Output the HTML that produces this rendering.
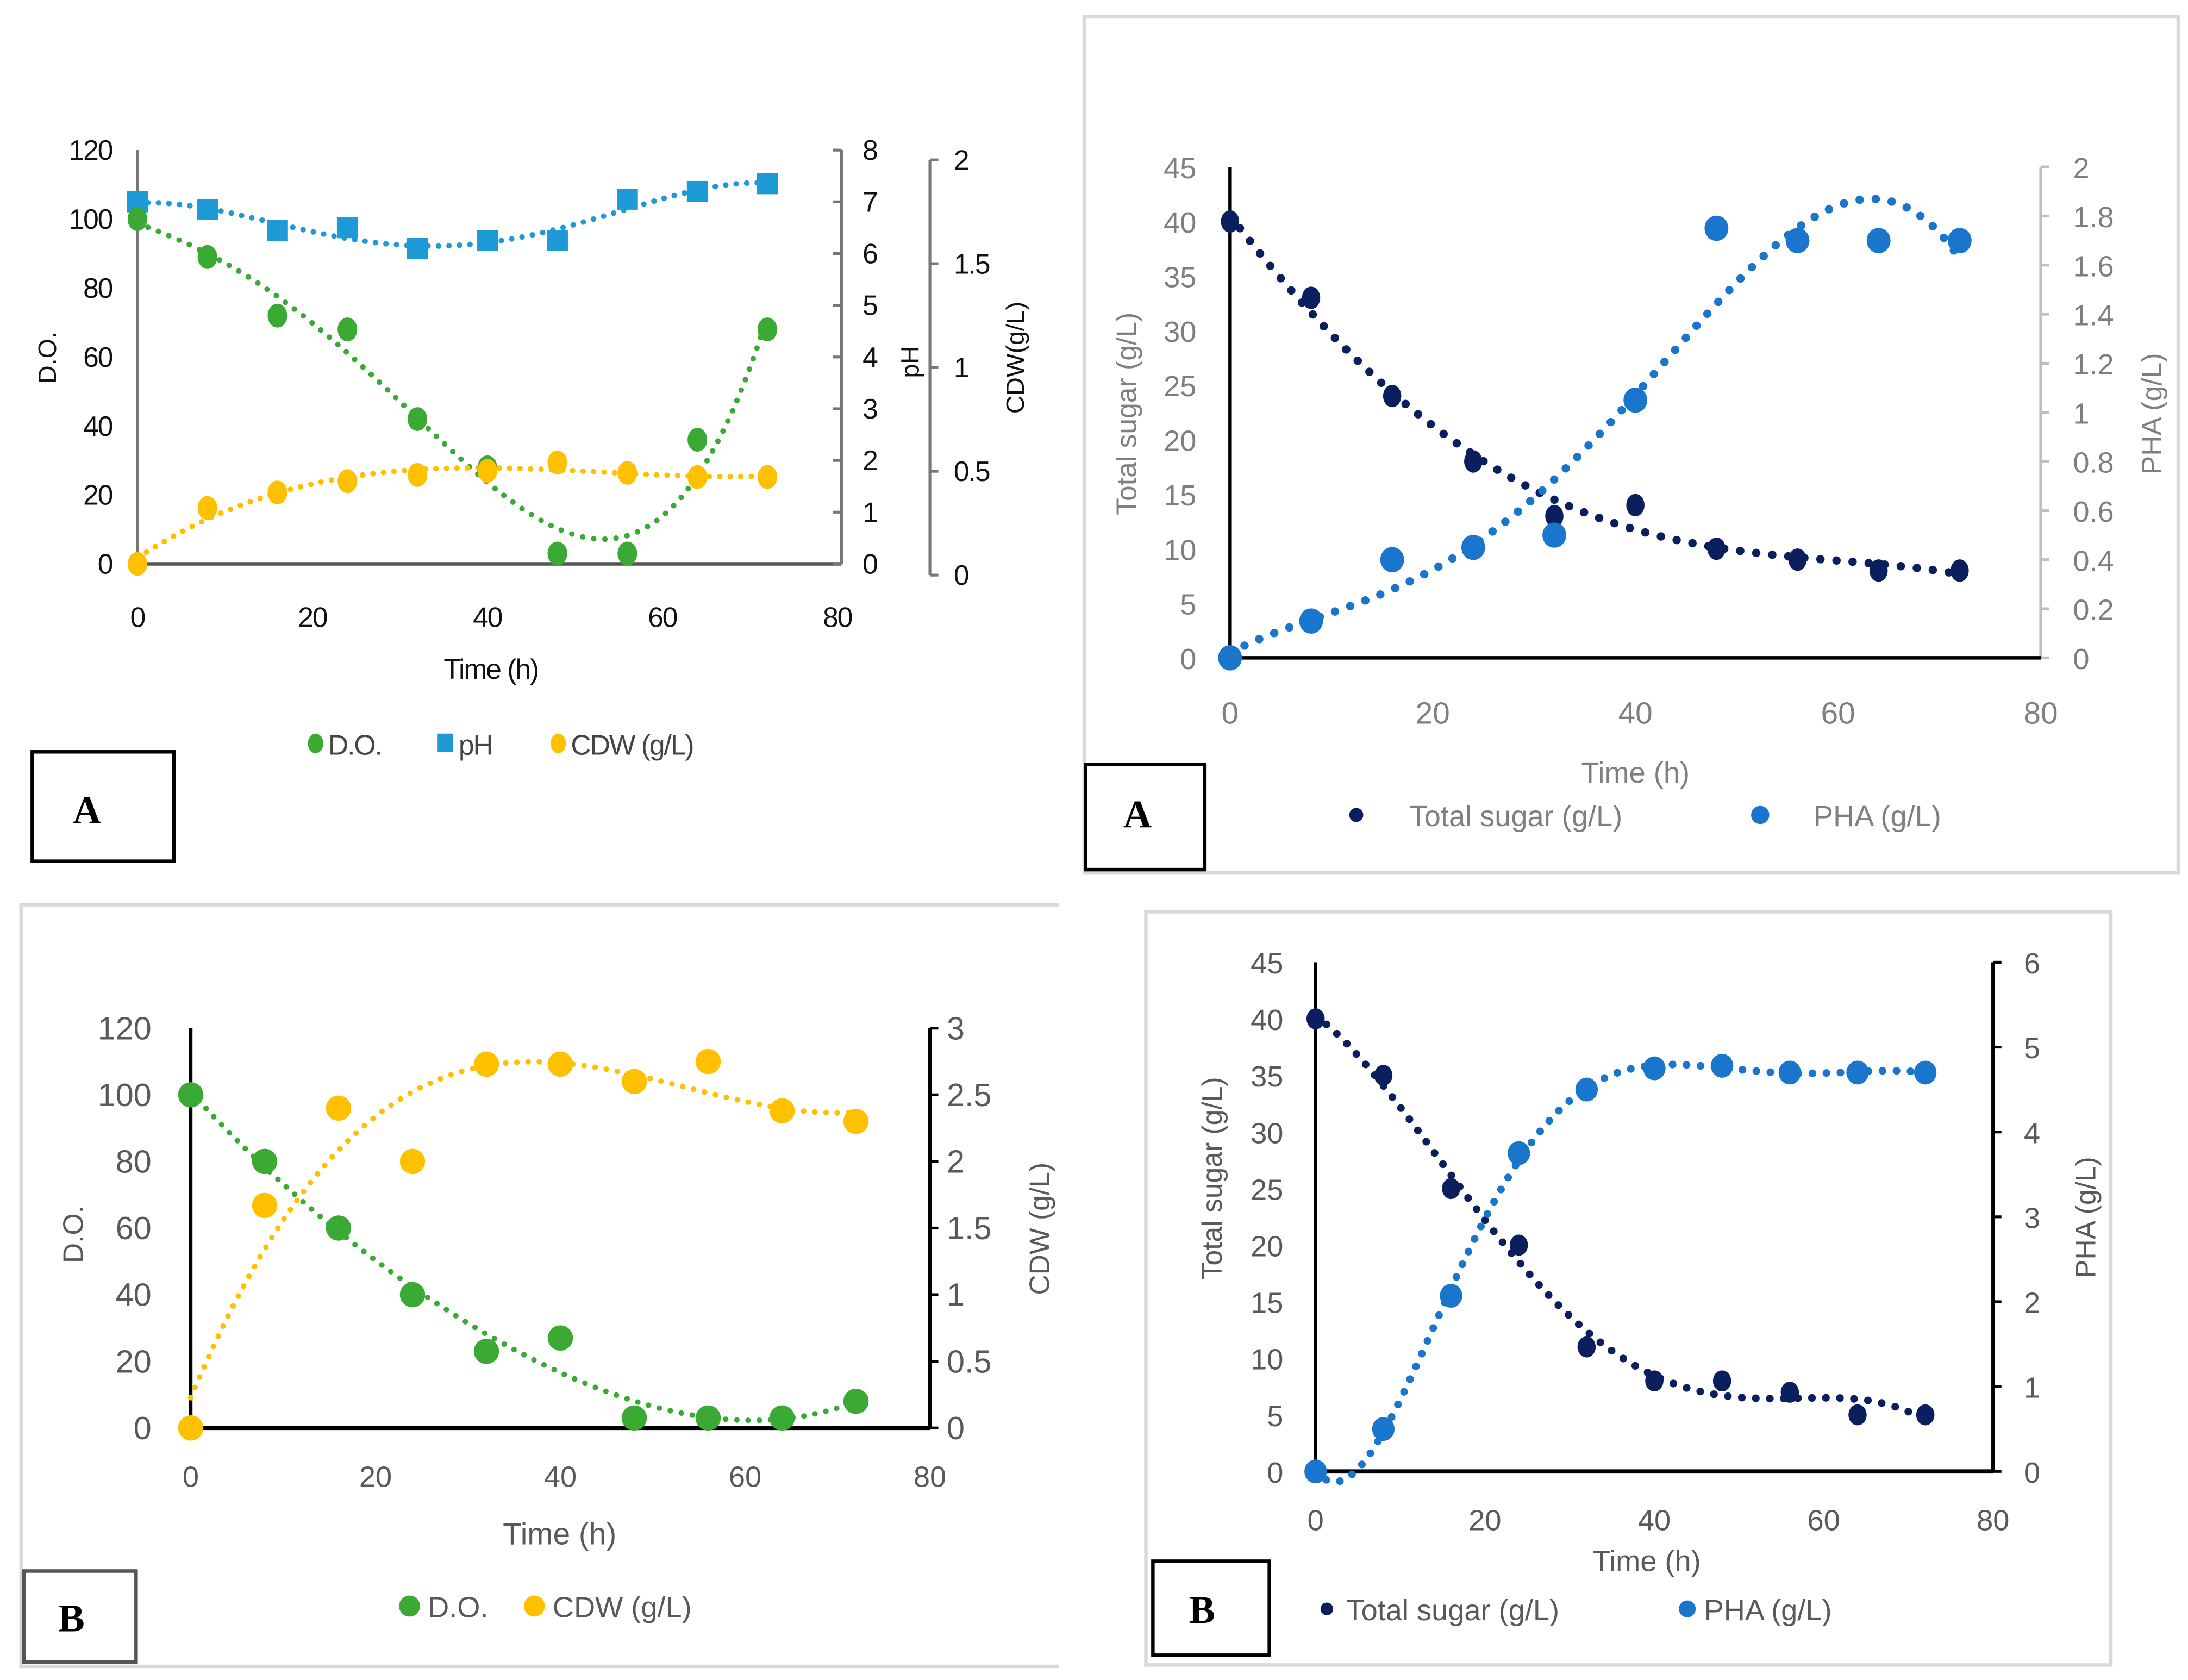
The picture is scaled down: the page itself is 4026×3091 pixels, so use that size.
<!DOCTYPE html>
<html><head><meta charset="utf-8"><style>
html,body{margin:0;padding:0;background:#fff;}
svg{display:block;}
text{font-family:"Liberation Sans",sans-serif;}
</style></head><body>
<svg id="fig" xmlns="http://www.w3.org/2000/svg" width="4026" height="3091" viewBox="0 0 1560 1197.7" preserveAspectRatio="none">
<rect x="0" y="0" width="1560" height="1197.7" fill="#fff"/>
<rect x="773" y="12" width="780" height="610" fill="none" stroke="#d9d9d9" stroke-width="2.5"/>
<polyline points="755,645 15,645 15,1188 755,1188" fill="none" stroke="#d9d9d9" stroke-width="2.5"/>
<rect x="817" y="650" width="688" height="537" fill="none" stroke="#d9d9d9" stroke-width="2.5"/>
<g><rect x="23" y="536" width="101" height="78" fill="#fff" stroke="#000" stroke-width="2.5"/><text x="62" y="587" font-weight="bold" font-size="28" text-anchor="middle" style="font-family:'Liberation Serif',serif">A</text></g>
<g><rect x="774" y="545" width="85" height="75" fill="#fff" stroke="#000" stroke-width="2.5"/><text x="811" y="590" font-weight="bold" font-size="28" text-anchor="middle" style="font-family:'Liberation Serif',serif">A</text></g>
<g><rect x="17" y="1120" width="80" height="65" fill="#fff" stroke="#555" stroke-width="2.5"/><text x="51" y="1163" font-weight="bold" font-size="28" text-anchor="middle" style="font-family:'Liberation Serif',serif">B</text></g>
<g><rect x="822" y="1113" width="83" height="67" fill="#fff" stroke="#000" stroke-width="2.5"/><text x="857" y="1157" font-weight="bold" font-size="28" text-anchor="middle" style="font-family:'Liberation Serif',serif">B</text></g>
</svg>
<script>
// ---------- data ----------
const tlTime=[0,8,16,24,32,40,48,56,64,72];
const tlDO=[100,89,72,68,42,28,3,3,36,68];
const tlPH=[7.0,6.85,6.45,6.5,6.1,6.25,6.25,7.05,7.2,7.35];
const tlCDW=[0,0.27,0.345,0.4,0.43,0.45,0.49,0.44,0.42,0.42];
const tlXTicks=["0","20","40","60","80"];
const tlYTicks=["0","20","40","60","80","100","120"];
const tlPHTicks=["0","1","2","3","4","5","6","7","8"];
const tlCDWTicks=["0","0.5","1","1.5","2"];

const trTime=[0,8,16,24,32,40,48,56,64,72];
const trSugar=[40,33,24,18,13,14,10,9,8,8];
const trPHA=[0,0.15,0.4,0.45,0.5,1.05,1.75,1.7,1.7,1.7];
const trXTicks=["0","20","40","60","80"];
const trYTicks=["0","5","10","15","20","25","30","35","40","45"];
const trY2Ticks=["0","0.2","0.4","0.6","0.8","1","1.2","1.4","1.6","1.8","2"];

const blTime=[0,8,16,24,32,40,48,56,64,72];
const blDO=[100,80,60,40,23,27,3,3,3,8];
const blCDW=[0,1.67,2.4,2.0,2.73,2.73,2.6,2.75,2.38,2.3];
const blXTicks=["0","20","40","60","80"];
const blYTicks=["0","20","40","60","80","100","120"];
const blY2Ticks=["0","0.5","1","1.5","2","2.5","3"];

const brTime=[0,8,16,24,32,40,48,56,64,72];
const brSugar=[40,35,25,20,11,8,8,7,5,5];
const brPHA=[0,0.5,2.07,3.75,4.5,4.75,4.78,4.7,4.7,4.7];
const brXTicks=["0","20","40","60","80"];
const brYTicks=["0","5","10","15","20","25","30","35","40","45"];
const brY2Ticks=["0","1","2","3","4","5","6"];

// ---------- helpers ----------
const NS="http://www.w3.org/2000/svg";
const svg=document.getElementById('fig');
function mk(tag,attrs,parent){const e=document.createElementNS(NS,tag);for(const k in attrs)e.setAttribute(k,attrs[k]);(parent||svg).appendChild(e);return e;}
function txt(s,attrs,parent){const e=mk('text',attrs,parent);e.textContent=s;return e;}
function polyfit(xs,ys,deg){
  const n=deg+1,A=[],b=[];
  const xn=xs.map(v=>v/72);
  for(let i=0;i<n;i++){A.push(new Array(n).fill(0));b.push(0);}
  for(let k=0;k<xn.length;k++){for(let i=0;i<n;i++){b[i]+=ys[k]*Math.pow(xn[k],i);for(let j=0;j<n;j++)A[i][j]+=Math.pow(xn[k],i+j);}}
  for(let i=0;i<n;i++){let p=i;for(let r=i+1;r<n;r++)if(Math.abs(A[r][i])>Math.abs(A[p][i]))p=r;
    [A[i],A[p]]=[A[p],A[i]];[b[i],b[p]]=[b[p],b[i]];
    for(let r=i+1;r<n;r++){const f=A[r][i]/A[i][i];for(let c=i;c<n;c++)A[r][c]-=f*A[i][c];b[r]-=f*b[i];}}
  const c=new Array(n).fill(0);
  for(let i=n-1;i>=0;i--){let s=b[i];for(let j=i+1;j<n;j++)s-=A[i][j]*c[j];c[i]=s/A[i][i];}
  return t=>{const x=t/72;let s=0;for(let i=0;i<n;i++)s+=c[i]*Math.pow(x,i);return s;};
}
function trend(g,xs,ys,deg,sx,sy,color,w,gap){
  const f=polyfit(xs,ys,deg);let d="";
  for(let t=0;t<=72.01;t+=0.5){d+=(t===0?"M":"L")+sx(t).toFixed(2)+","+sy(f(t)).toFixed(2);}
  const p=mk('path',{d:d,fill:'none',stroke:color,'stroke-width':w,'stroke-linecap':'round','stroke-dasharray':'0 '+gap},g);
  
  
  return p;
}
function linScale(d0,d1,r0,r1){return v=>r0+(v-d0)*(r1-r0)/(d1-d0);}

// ---------- Panel TL ----------
(function(){
  const g=mk('g',{});
  
  
  const sx=linScale(0,80,98,597), sy=linScale(0,120,402,107), sp=linScale(0,8,402,107), sc=linScale(0,2,402,107);
  const sc2=linScale(0,2,410,114);
  const fs="font-size:20px;letter-spacing:-0.8px;fill:#111";
  mk('line',{x1:98,y1:107,x2:98,y2:402,stroke:'#777','stroke-width':2},g);
  mk('line',{x1:98,y1:402,x2:600,y2:402,stroke:'#555','stroke-width':2.5},g);
  mk('line',{x1:600,y1:107,x2:600,y2:402,stroke:'#777','stroke-width':2},g);
  mk('line',{x1:663,y1:114,x2:663,y2:410,stroke:'#777','stroke-width':2},g);
  tlYTicks.forEach((s,i)=>{const t=txt(s,{x:80,y:sy(i*20)+7,'text-anchor':'end',style:fs},g);});
  tlPHTicks.forEach((s,i)=>{mk('line',{x1:600,y1:sp(i),x2:594,y2:sp(i),stroke:'#777','stroke-width':2},g);const t=txt(s,{x:615,y:sp(i)+7,style:fs},g);});
  tlCDWTicks.forEach((s,i)=>{mk('line',{x1:663,y1:sc2(i*0.5),x2:669,y2:sc2(i*0.5),stroke:'#777','stroke-width':2},g);const t=txt(s,{x:680,y:sc2(i*0.5)+7,style:fs},g);});
  tlXTicks.forEach((s,i)=>{const t=txt(s,{x:sx(i*20),y:447,'text-anchor':'middle',style:fs},g);});
  let t;
  t=txt('Time (h)',{x:350,y:484,'text-anchor':'middle',style:fs},g);
  t=txt('D.O.',{x:0,y:0,'text-anchor':'middle',transform:'translate(40,255) rotate(-90)',style:'font-size:18px;fill:#111'},g);
  t=txt('pH',{x:0,y:0,'text-anchor':'middle',transform:'translate(655,258) rotate(-90)',style:'font-size:18px;fill:#111'},g);
  t=txt('CDW(g/L)',{x:0,y:0,'text-anchor':'middle',transform:'translate(730,255) rotate(-90)',style:'font-size:18px;fill:#111'},g);
  trend(g,tlTime,tlPH,4,sx,sp,'#1e9bd7',4,7.5);
  trend(g,tlTime,tlDO,4,sx,sy,'#3aaa35',4,8);
  trend(g,tlTime,tlCDW,3,sx,sc,'#ffc000',4,7.5);
  tlTime.forEach((x,i)=>{const m=mk('rect',{x:sx(x)-7.5,y:sp(tlPH[i])-7.5,width:15,height:15,fill:'#1e9bd7'},g);});
  tlTime.forEach((x,i)=>{const m=mk('ellipse',{cx:sx(x),cy:sy(tlDO[i]),rx:7,ry:8.5,fill:'#3aaa35'},g);});
  tlTime.forEach((x,i)=>{const m=mk('ellipse',{cx:sx(x),cy:sc(tlCDW[i]),rx:7,ry:8.5,fill:'#ffc000'},g);});
  const lg=mk('g',{},g);
  mk('ellipse',{cx:225,cy:530,rx:5.5,ry:7,fill:'#3aaa35'},lg);txt('D.O.',{x:234,y:538,style:'font-size:20px;letter-spacing:-0.8px;fill:#444'},lg);
  mk('rect',{x:312,y:523,width:11,height:13,fill:'#1e9bd7'},lg);txt('pH',{x:327,y:538,style:'font-size:20px;letter-spacing:-0.8px;fill:#444'},lg);
  mk('ellipse',{cx:398,cy:530,rx:5.5,ry:7,fill:'#ffc000'},lg);txt('CDW (g/L)',{x:407,y:538,style:'font-size:20px;letter-spacing:-0.8px;fill:#444'},lg);
})();

// ---------- Panel TR ----------
(function(){
  const g=mk('g',{});
  
  
  const sx=linScale(0,80,877,1455), sy=linScale(0,45,469,119), s2=linScale(0,2,469,119);
  const fs="font-size:21px;fill:#7f7f7f";
  mk('line',{x1:1455,y1:119,x2:1455,y2:469,stroke:'#bfbfbf','stroke-width':2},g);
  trY2Ticks.forEach((s,i)=>{mk('line',{x1:1455,y1:s2(i*0.2),x2:1461,y2:s2(i*0.2),stroke:'#bfbfbf','stroke-width':2},g);const t=txt(s,{x:1478,y:s2(i*0.2)+8,style:fs},g);});
  mk('line',{x1:877,y1:119,x2:877,y2:469,stroke:'#000','stroke-width':2.5},g);
  mk('line',{x1:877,y1:469,x2:1455,y2:469,stroke:'#000','stroke-width':2.5},g);
  trYTicks.forEach((s,i)=>{const t=txt(s,{x:853,y:sy(i*5)+8,'text-anchor':'end',style:fs},g);});
  trXTicks.forEach((s,i)=>{const t=txt(s,{x:sx(i*20),y:516,'text-anchor':'middle',style:'font-size:22px;fill:#7f7f7f'},g);});
  let t;
  t=txt('Time (h)',{x:1166,y:558,'text-anchor':'middle',style:'font-size:21px;fill:#7f7f7f'},g);
  t=txt('Total sugar (g/L)',{x:0,y:0,'text-anchor':'middle',transform:'translate(810,295) rotate(-90)',style:'font-size:20px;fill:#7f7f7f'},g);
  t=txt('PHA (g/L)',{x:0,y:0,'text-anchor':'middle',transform:'translate(1541,295) rotate(-90)',style:'font-size:20px;fill:#7f7f7f'},g);
  trend(g,trTime,trSugar,4,sx,sy,'#0b1f5e',6,11.5);
  trend(g,trTime,trPHA,4,sx,s2,'#1a75cc',6,11.5);
  trTime.forEach((x,i)=>{const m=mk('ellipse',{cx:sx(x),cy:sy(trSugar[i]),rx:6.5,ry:8,fill:'#0b1f5e'},g);});
  trTime.forEach((x,i)=>{const m=mk('ellipse',{cx:sx(x),cy:s2(trPHA[i]),rx:8.5,ry:9,fill:'#1a75cc'},g);});
  const lg=mk('g',{},g);
  mk('circle',{cx:967,cy:581,r:5,fill:'#0b1f5e'},lg);txt('Total sugar (g/L)',{x:1005,y:589,style:'font-size:21px;fill:#7f7f7f'},lg);
  mk('circle',{cx:1255,cy:581,r:6.5,fill:'#1a75cc'},lg);txt('PHA (g/L)',{x:1293,y:589,style:'font-size:21px;fill:#7f7f7f'},lg);
})();

// ---------- Panel BL ----------
(function(){
  const g=mk('g',{});
  
  
  const sx=linScale(0,80,136,663), sy=linScale(0,120,1018,733), s2=linScale(0,3,1018,733);
  const fs="font-size:23px;fill:#595959";
  mk('line',{x1:136,y1:733,x2:136,y2:1018,stroke:'#000','stroke-width':2.5},g);
  mk('line',{x1:663,y1:733,x2:663,y2:1018,stroke:'#000','stroke-width':2.5},g);
  mk('line',{x1:136,y1:1018,x2:663,y2:1018,stroke:'#000','stroke-width':3},g);
  blYTicks.forEach((s,i)=>{const t=txt(s,{x:108,y:sy(i*20)+8,'text-anchor':'end',style:fs},g);});
  blY2Ticks.forEach((s,i)=>{mk('line',{x1:663,y1:s2(i*0.5),x2:669,y2:s2(i*0.5),stroke:'#000','stroke-width':2},g);const t=txt(s,{x:675,y:s2(i*0.5)+8,style:fs},g);});
  blXTicks.forEach((s,i)=>{const t=txt(s,{x:sx(i*20),y:1060,'text-anchor':'middle',style:'font-size:21px;fill:#595959'},g);});
  let t;
  t=txt('Time (h)',{x:399,y:1101,'text-anchor':'middle',style:'font-size:22px;fill:#595959'},g);
  t=txt('D.O.',{x:0,y:0,'text-anchor':'middle',transform:'translate(59,880) rotate(-90)',style:'font-size:20px;fill:#595959'},g);
  t=txt('CDW (g/L)',{x:0,y:0,'text-anchor':'middle',transform:'translate(748,876) rotate(-90)',style:'font-size:20px;fill:#595959'},g);
  trend(g,blTime,blDO,4,sx,sy,'#3aaa35',4,8);
  trend(g,blTime,blCDW,3,sx,s2,'#ffc000',4,8);
  blTime.forEach((x,i)=>{const m=mk('ellipse',{cx:sx(x),cy:sy(blDO[i]),rx:9,ry:9,fill:'#3aaa35'},g);});
  blTime.forEach((x,i)=>{const m=mk('ellipse',{cx:sx(x),cy:s2(blCDW[i]),rx:9,ry:9,fill:'#ffc000'},g);});
  const lg=mk('g',{},g);
  mk('circle',{cx:292,cy:1145,r:7.5,fill:'#3aaa35'},lg);txt('D.O.',{x:305,y:1153,style:'font-size:21px;fill:#595959'},lg);
  mk('circle',{cx:381,cy:1145,r:7.5,fill:'#ffc000'},lg);txt('CDW (g/L)',{x:394,y:1153,style:'font-size:21px;fill:#595959'},lg);
})();

// ---------- Panel BR ----------
(function(){
  const g=mk('g',{});
  
  
  const sx=linScale(0,80,938,1421), sy=linScale(0,45,1049,686), s2=linScale(0,6,1049,686);
  const fs="font-size:21px;fill:#595959";
  mk('line',{x1:938,y1:686,x2:938,y2:1049,stroke:'#000','stroke-width':2.5},g);
  mk('line',{x1:1421,y1:686,x2:1421,y2:1049,stroke:'#000','stroke-width':2.5},g);
  mk('line',{x1:938,y1:1049,x2:1421,y2:1049,stroke:'#000','stroke-width':3},g);
  brYTicks.forEach((s,i)=>{const t=txt(s,{x:915,y:sy(i*5)+8,'text-anchor':'end',style:fs},g);});
  brY2Ticks.forEach((s,i)=>{mk('line',{x1:1421,y1:s2(i),x2:1427,y2:s2(i),stroke:'#000','stroke-width':2},g);const t=txt(s,{x:1443,y:s2(i)+8,style:fs},g);});
  brXTicks.forEach((s,i)=>{const t=txt(s,{x:sx(i*20),y:1091,'text-anchor':'middle',style:fs},g);});
  let t;
  t=txt('Time (h)',{x:1174,y:1120,'text-anchor':'middle',style:fs},g);
  t=txt('Total sugar (g/L)',{x:0,y:0,'text-anchor':'middle',transform:'translate(871,840) rotate(-90)',style:'font-size:20px;fill:#595959'},g);
  t=txt('PHA (g/L)',{x:0,y:0,'text-anchor':'middle',transform:'translate(1494,868) rotate(-90)',style:'font-size:20px;fill:#595959'},g);
  trend(g,brTime,brSugar,4,sx,sy,'#0b1f5e',5.5,10);
  trend(g,brTime,brPHA,6,sx,s2,'#1a75cc',5.5,10);
  brTime.forEach((x,i)=>{const m=mk('ellipse',{cx:sx(x),cy:sy(brSugar[i]),rx:6.5,ry:7.5,fill:'#0b1f5e'},g);});
  brTime.forEach((x,i)=>{const m=mk('ellipse',{cx:sx(x),cy:s2(brPHA[i]),rx:8,ry:8.5,fill:'#1a75cc'},g);});
  const lg=mk('g',{},g);
  mk('circle',{cx:946,cy:1147,r:4.5,fill:'#0b1f5e'},lg);txt('Total sugar (g/L)',{x:960,y:1155,style:fs},lg);
  mk('circle',{cx:1203,cy:1147,r:6,fill:'#1a75cc'},lg);txt('PHA (g/L)',{x:1215,y:1155,style:fs},lg);
})();
</script>
</body></html>
